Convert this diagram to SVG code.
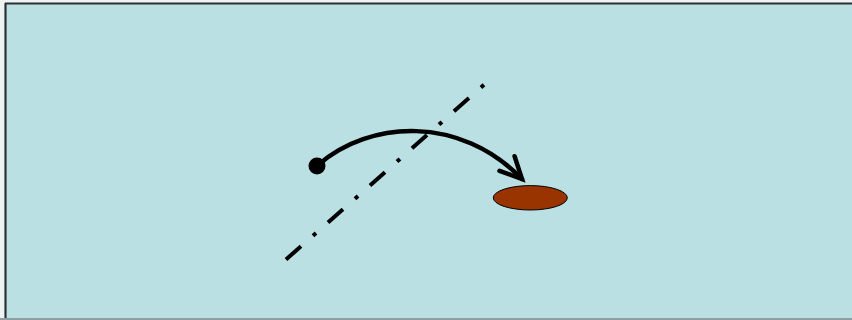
<svg xmlns="http://www.w3.org/2000/svg" width="852" height="320" viewBox="0 0 852 320">
  <defs>
    <style>
      .frame { fill: #BBE0E3; }
      .edge { stroke: #2b3232; stroke-width: 2.2; fill: none; }
      .axis { stroke: #000; stroke-width: 4; fill: none; stroke-dasharray: 20 16 4 16; }
      .arc { stroke: #000; stroke-width: 4.5; fill: none; stroke-linecap: round; }
      .head { stroke: #000; stroke-width: 4.5; fill: none; stroke-linejoin: miter; stroke-linecap: round; }
    </style>
    <marker id="arrowOpen" markerUnits="userSpaceOnUse" viewBox="-26 -14 30 28" refX="0" refY="0" markerWidth="30" markerHeight="28" orient="auto" overflow="visible">
      <path class="head" d="M -21.5 -10.5 L 0 0 L -21.5 10.5"/>
    </marker>
  </defs>
  <rect x="0" y="0" width="852" height="320" fill="#eef2f2"/>
  <g id="background">
    <rect class="frame" x="5" y="3" width="847" height="317"/>
    <line class="edge" x1="5.5" y1="3" x2="5.5" y2="320"/>
    <line class="edge" x1="5" y1="3.5" x2="852" y2="3.5"/>
    <line x1="0" y1="319" x2="852" y2="319" stroke="#8e9fa1" stroke-width="2"/>
  </g>
  <g id="axis-line">
    <line class="axis" x1="286" y1="259.5" x2="484" y2="84.8"/>
  </g>
  <g id="start-point">
    <circle cx="317" cy="166" r="8.5" fill="#000"/>
  </g>
  <g id="target">
    <ellipse cx="530.3" cy="197.8" rx="37" ry="12.2" fill="#993300" stroke="#000" stroke-width="1"/>
  </g>
  <g id="connectors">
    <path class="arc" d="M 318 165 C 370 120, 460 115, 522 179" marker-end="url(#arrowOpen)"/>
  </g>
</svg>
